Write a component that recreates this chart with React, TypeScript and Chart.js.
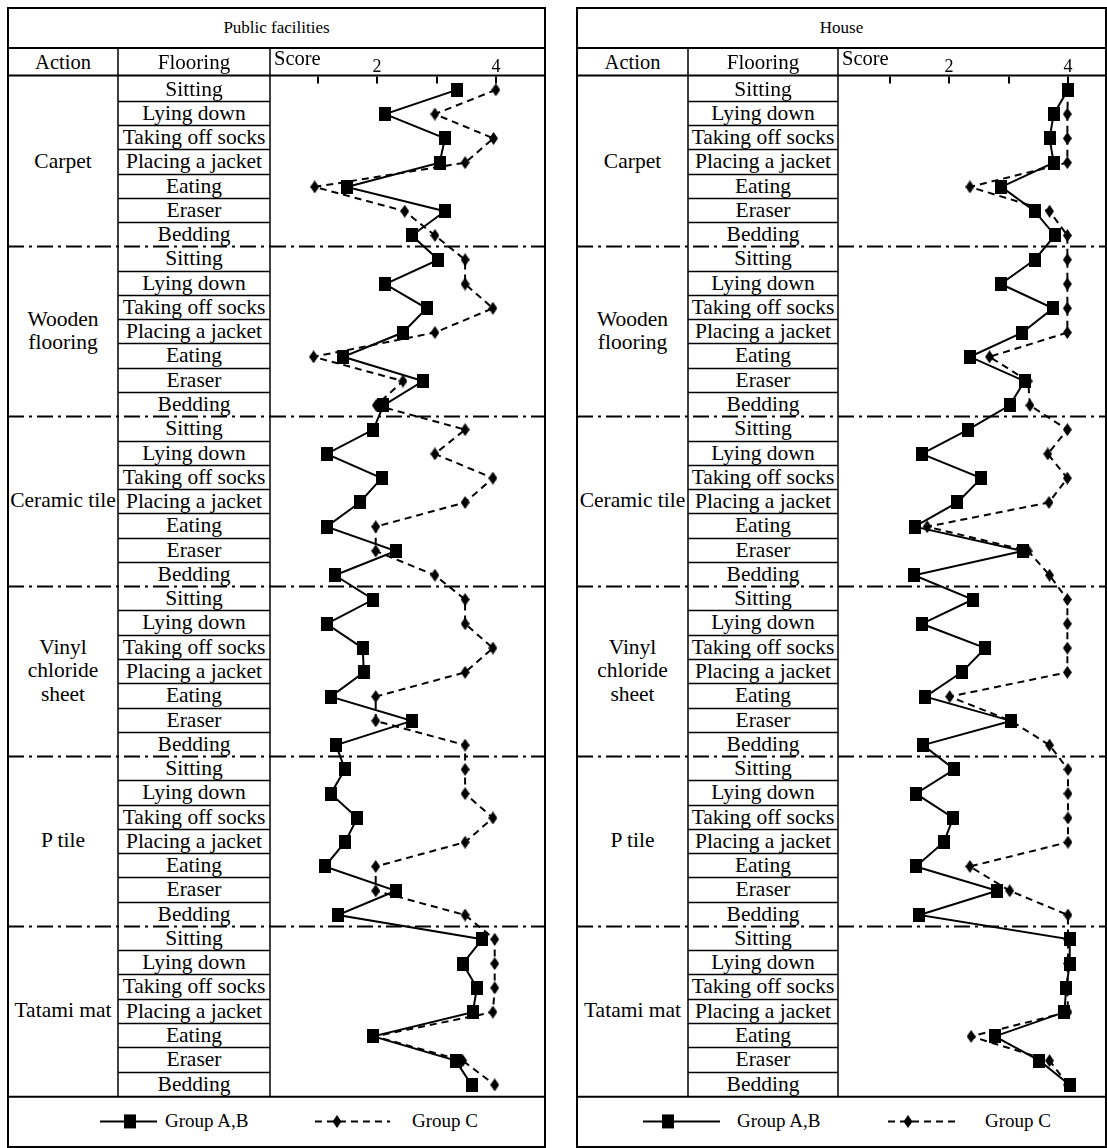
import React, { useEffect, useRef } from "react";
import { Chart, registerables } from "chart.js";
Chart.register(...registerables);

// ---------- data ----------
const actionGroups = ["Carpet", "Wooden\nflooring", "Ceramic tile", "Vinyl\nchloride\nsheet", "P tile", "Tatami mat"];
const floorLabels = ["Sitting", "Lying down", "Taking off socks", "Placing a jacket", "Eating", "Eraser", "Bedding"];
const scoreTicks = [1, 2, 3, 4];
const scoreTickLabels = ["", "2", "", "4"];
const seriesNames = ["Group A,B", "Group C"];
const panelTitles = ["Public facilities", "House"];

const publicAB = [
  3.34, 2.13, 3.14, 3.05, 1.48, 3.14, 2.58,
  3.03, 2.13, 2.83, 2.43, 1.42, 2.77, 2.10,
  1.93, 1.14, 2.07, 1.70, 1.14, 2.31, 1.28,
  1.93, 1.14, 1.75, 1.77, 1.21, 2.58, 1.30,
  1.45, 1.21, 1.66, 1.45, 1.11, 2.31, 1.33,
  3.77, 3.44, 3.68, 3.61, 1.93, 3.32, 3.59,
];
const publicC = [
  4.00, 2.97, 3.96, 3.48, 0.94, 2.46, 2.97,
  3.48, 3.48, 3.95, 2.97, 0.92, 2.43, 1.98,
  3.48, 2.97, 3.95, 3.48, 1.97, 1.97, 2.97,
  3.48, 3.48, 3.95, 3.48, 1.97, 1.97, 3.48,
  3.48, 3.48, 3.95, 3.48, 1.97, 1.97, 3.48,
  3.98, 3.98, 3.98, 3.95, 1.95, 3.44, 3.98,
];
const houseAB = [
  4.00, 3.76, 3.69, 3.76, 2.88, 3.44, 3.78,
  3.44, 2.87, 3.75, 3.23, 2.35, 3.27, 3.02,
  2.32, 1.54, 2.54, 2.14, 1.42, 3.24, 1.41,
  2.40, 1.54, 2.61, 2.21, 1.60, 3.04, 1.56,
  2.09, 1.44, 2.07, 1.91, 1.44, 2.81, 1.50,
  4.03, 4.03, 3.97, 3.94, 2.77, 3.52, 4.03,
];
const houseC = [
  4.00, 3.99, 3.99, 3.99, 2.35, 3.69, 3.99,
  3.99, 3.99, 3.99, 3.99, 2.68, 3.33, 3.36,
  3.99, 3.66, 3.99, 3.68, 1.63, 3.33, 3.69,
  3.99, 3.99, 3.99, 3.99, 2.01, 3.04, 3.69,
  4.00, 4.00, 4.00, 4.00, 2.35, 3.02, 4.00,
  4.00, 4.00, 3.99, 4.00, 2.37, 3.69, 4.00,
];

// ---------- layout ----------
const FONT = '"Liberation Serif", "Times New Roman", serif';
const BOX_TOP = 8;
const HEAD_TOP = 48;
const ROW_TOP = 76.5;
const ROW_H = 24.27;
const NROWS = 42;
const BOTTOM = ROW_TOP + NROWS * ROW_H;
const BOX_BOTTOM = 1147;

const panels = [
  { x0: 8, xAct: 118, xPlot: 270, x1: 545, xmin: 0.184, xmax: 4.83, ab: publicAB, c: publicC, title: panelTitles[0],
    leg: { l1: 100, l2: 157, sq: 130, t1: 165, d1: 315, d2: 390, dm: 337, t2: 412 } },
  { x0: 577, xAct: 688, xPlot: 838, x1: 1106, xmin: 0.13, xmax: 4.64, ab: houseAB, c: houseC, title: panelTitles[1],
    leg: { l1: 643, l2: 720, sq: 668, t1: 737, d1: 888, d2: 960, dm: 908, t2: 985 } },
];

function makeSquare() {
  const c = document.createElement("canvas");
  c.width = 12; c.height = 14;
  const g = c.getContext("2d")!;
  g.fillStyle = "#000";
  g.fillRect(0, 0, 12, 14);
  return c;
}
function makeDiamond() {
  const c = document.createElement("canvas");
  c.width = 9; c.height = 13;
  const g = c.getContext("2d")!;
  g.fillStyle = "#000";
  g.beginPath();
  g.moveTo(4.5, 0); g.lineTo(9, 6.5); g.lineTo(4.5, 13); g.lineTo(0, 6.5);
  g.closePath(); g.fill();
  return c;
}

const sepPlugin = {
  id: "sepTicks",
  beforeDatasetsDraw(chart: any) {
    const { ctx, chartArea, scales } = chart;
    ctx.save();
    ctx.strokeStyle = "#000";
    ctx.lineWidth = 2;
    ctx.setLineDash([16, 5, 3, 5]);
    for (let k = 1; k < 6; k++) {
      const y = Math.round(scales.y.getPixelForValue(k * 7)) + 0.5;
      ctx.beginPath();
      ctx.moveTo(chartArea.left, y);
      ctx.lineTo(chartArea.right, y);
      ctx.stroke();
    }
    ctx.setLineDash([]);
    ctx.fillStyle = "#000";
    ctx.font = `18px ${FONT}`;
    ctx.textAlign = "center";
    ctx.textBaseline = "alphabetic";
    scoreTicks.forEach((v, i) => {
      const x = Math.round(scales.x.getPixelForValue(v));
      ctx.beginPath();
      ctx.moveTo(x, chartArea.top);
      ctx.lineTo(x, chartArea.top + 7);
      ctx.stroke();
      if (scoreTickLabels[i]) ctx.fillText(scoreTickLabels[i], x, chartArea.top - 5);
    });
    ctx.restore();
  },
};

function PlotChart({ p }: any) {
  const ref = useRef<HTMLCanvasElement>(null);
  const width = p.x1 - p.xPlot;
  const height = Math.round(BOTTOM - HEAD_TOP);
  useEffect(() => {
    const sq = makeSquare();
    const dm = makeDiamond();
    const ypos = (i: number) => i + 0.55;
    const chart = new Chart(ref.current!, {
      type: "scatter",
      data: {
        datasets: [
          {
            label: seriesNames[0],
            data: p.ab.map((v: number, i: number) => ({ x: v, y: ypos(i) })),
            showLine: true,
            borderColor: "#000",
            backgroundColor: "#000",
            borderWidth: 2,
            pointStyle: sq,
            pointRadius: 7,
            pointHoverRadius: 7,
            clip: false,
          },
          {
            label: seriesNames[1],
            data: p.c.map((v: number, i: number) => ({ x: v, y: ypos(i) })),
            showLine: true,
            borderColor: "#000",
            backgroundColor: "#000",
            borderWidth: 2,
            borderDash: [7, 5],
            pointStyle: dm,
            pointRadius: 6,
            pointHoverRadius: 6,
            clip: false,
          },
        ],
      },
      options: {
        animation: false,
        responsive: false,
        maintainAspectRatio: false,
        layout: { autoPadding: false, padding: { top: ROW_TOP - HEAD_TOP, left: 0, right: 0, bottom: height - (BOTTOM - HEAD_TOP) } },
        scales: {
          x: { type: "linear", min: p.xmin, max: p.xmax, display: false },
          y: { type: "linear", min: 0, max: NROWS, reverse: true, display: false },
        },
        plugins: { legend: { display: false }, tooltip: { enabled: false } },
      },
      plugins: [sepPlugin],
    } as any);
    return () => chart.destroy();
  }, []);
  return (
    <canvas
      ref={ref}
      width={width}
      height={height}
      style={{ position: "absolute", left: p.xPlot, top: HEAD_TOP, width, height }}
    />
  );
}

function Panel({ p }: any) {
  const txt: any = { position: "absolute", fontFamily: FONT, color: "#000", whiteSpace: "nowrap" };
  const legY = (BOTTOM + BOX_BOTTOM) / 2;
  return (
    <>
      <PlotChart p={p} />
      <div style={{ ...txt, left: p.x0, width: p.x1 - p.x0, top: BOX_TOP, height: HEAD_TOP - BOX_TOP, lineHeight: `${HEAD_TOP - BOX_TOP}px`, textAlign: "center", fontSize: 17 }}>{p.title}</div>
      <div style={{ ...txt, left: p.x0, width: p.xAct - p.x0, top: HEAD_TOP, height: ROW_TOP - HEAD_TOP, lineHeight: `${ROW_TOP - HEAD_TOP}px`, textAlign: "center", fontSize: 20.5 }}>Action</div>
      <div style={{ ...txt, left: p.xAct, width: p.xPlot - p.xAct, top: HEAD_TOP, height: ROW_TOP - HEAD_TOP, lineHeight: `${ROW_TOP - HEAD_TOP}px`, textAlign: "center", fontSize: 21 }}>Flooring</div>
      <div style={{ ...txt, left: p.xPlot + 4, top: HEAD_TOP - 1, fontSize: 20.5, lineHeight: "22px" }}>Score</div>
      {actionGroups.map((g, k) => (
        <div key={"g" + k} style={{ ...txt, left: p.x0, width: p.xAct - p.x0, top: ROW_TOP + k * 7 * ROW_H, height: 7 * ROW_H, display: "flex", flexDirection: "column", justifyContent: "center", alignItems: "center", fontSize: 21.5, lineHeight: "23.5px", textAlign: "center" }}>
          {g.split("\n").map((s, j) => <div key={j}>{s}</div>)}
        </div>
      ))}
      {Array.from({ length: NROWS }, (_, i) => (
        <div key={"r" + i} style={{ ...txt, left: p.xAct, width: p.xPlot - p.xAct, top: ROW_TOP + i * ROW_H, height: ROW_H, lineHeight: `${ROW_H}px`, textAlign: "center", fontSize: 21.5 }}>
          {floorLabels[i % 7]}
        </div>
      ))}
      <div style={{ ...txt, left: p.leg.t1, top: legY - 12, lineHeight: "24px", fontSize: 19 }}>{seriesNames[0]}</div>
      <div style={{ ...txt, left: p.leg.t2, top: legY - 12, lineHeight: "24px", fontSize: 19 }}>{seriesNames[1]}</div>
    </>
  );
}

function Lines() {
  const els: any[] = [];
  const legY = (BOTTOM + BOX_BOTTOM) / 2;
  panels.forEach((p, n) => {
    const k = "p" + n;
    els.push(<rect key={k + "box"} x={p.x0} y={BOX_TOP} width={p.x1 - p.x0} height={BOX_BOTTOM - BOX_TOP} fill="none" stroke="#000" strokeWidth={2} />);
    els.push(<line key={k + "h1"} x1={p.x0} x2={p.x1} y1={HEAD_TOP} y2={HEAD_TOP} stroke="#000" strokeWidth={2} />);
    els.push(<line key={k + "h2"} x1={p.x0} x2={p.x1} y1={ROW_TOP - 1} y2={ROW_TOP - 1} stroke="#000" strokeWidth={2} />);
    els.push(<line key={k + "h3"} x1={p.x0} x2={p.x1} y1={BOTTOM + 1} y2={BOTTOM + 1} stroke="#000" strokeWidth={2} />);
    els.push(<line key={k + "v1"} x1={p.xAct} x2={p.xAct} y1={HEAD_TOP} y2={BOTTOM + 1} stroke="#000" strokeWidth={1.5} />);
    els.push(<line key={k + "v2"} x1={p.xPlot} x2={p.xPlot} y1={HEAD_TOP} y2={BOTTOM + 1} stroke="#000" strokeWidth={1.5} />);
    for (let i = 1; i < NROWS; i++) {
      const y = Math.round(ROW_TOP + i * ROW_H) + 0.5;
      if (i % 7 === 0) {
        els.push(<line key={k + "s" + i} x1={p.x0} x2={p.xPlot} y1={y} y2={y} stroke="#000" strokeWidth={2} strokeDasharray="16 5 3 5" />);
      } else {
        els.push(<line key={k + "r" + i} x1={p.xAct} x2={p.xPlot} y1={y} y2={y} stroke="#000" strokeWidth={1.3} />);
      }
    }
    els.push(<line key={k + "l1"} x1={p.leg.l1} x2={p.leg.l2} y1={legY} y2={legY} stroke="#000" strokeWidth={2} />);
    els.push(<rect key={k + "ls"} x={p.leg.sq - 6} y={legY - 7} width={12} height={14} fill="#000" />);
    els.push(<line key={k + "l2"} x1={p.leg.d1} x2={p.leg.d2} y1={legY} y2={legY} stroke="#000" strokeWidth={2} strokeDasharray="7 5" />);
    els.push(<polygon key={k + "ld"} points={`${p.leg.dm},${legY - 6.5} ${p.leg.dm + 4.5},${legY} ${p.leg.dm},${legY + 6.5} ${p.leg.dm - 4.5},${legY}`} fill="#000" />);
  });
  return (
    <svg width={1107} height={1148} style={{ position: "absolute", left: 0, top: 0, pointerEvents: "none" }}>
      {els}
    </svg>
  );
}

export default function App() {
  return (
    <div style={{ position: "absolute", left: 0, top: 0, width: 1107, height: 1148, background: "#fff", overflow: "hidden" }}>
      {panels.map((p, n) => <Panel key={n} p={p} />)}
      <Lines />
    </div>
  );
}
